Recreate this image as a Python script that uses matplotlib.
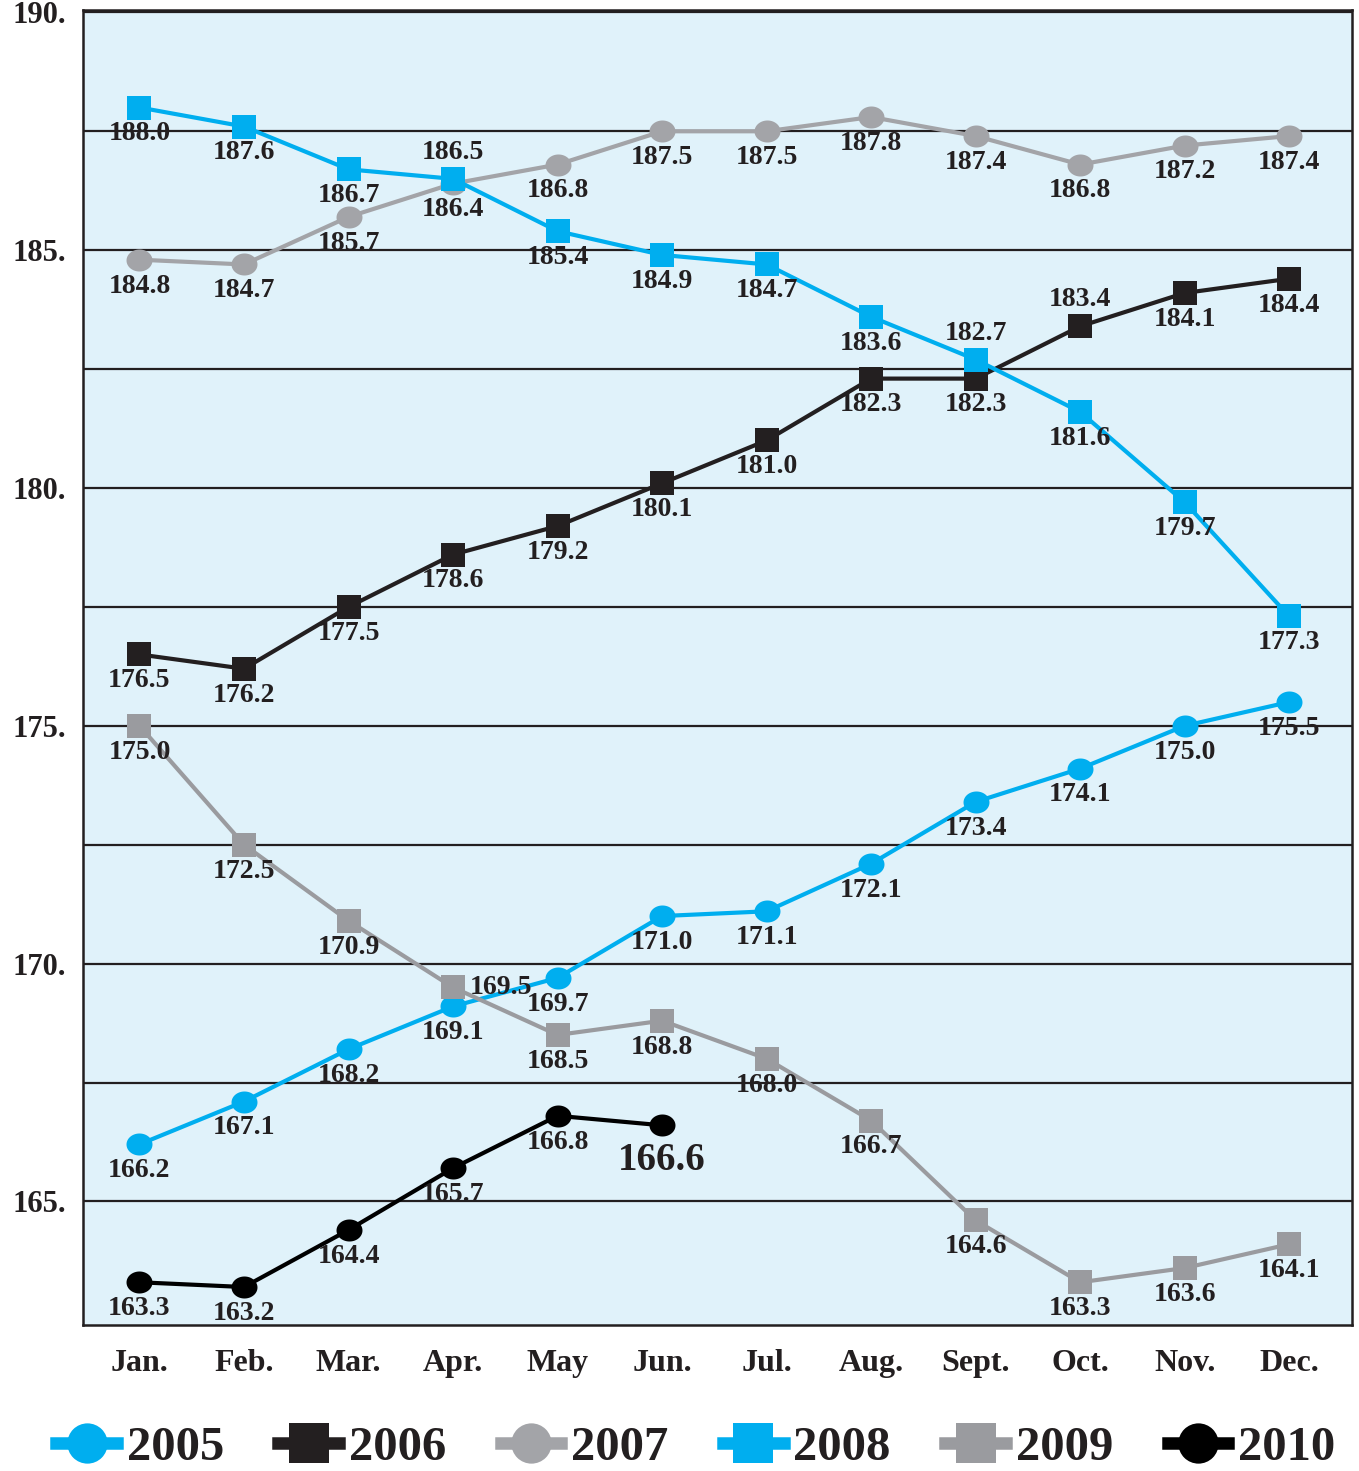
import numpy as np
import matplotlib
matplotlib.use("Agg")
import matplotlib.pyplot as plt
from matplotlib.path import Path
from matplotlib.lines import Line2D

# ---------------- data ----------------
months = ["Jan.", "Feb.", "Mar.", "Apr.", "May", "Jun.", "Jul.", "Aug.",
          "Sept.", "Oct.", "Nov.", "Dec."]
years = ["2005", "2006", "2007", "2008", "2009", "2010"]
v2005 = [166.2, 167.1, 168.2, 169.1, 169.7, 171.0, 171.1, 172.1, 173.4, 174.1, 175.0, 175.5]
v2006 = [176.5, 176.2, 177.5, 178.6, 179.2, 180.1, 181.0, 182.3, 182.3, 183.4, 184.1, 184.4]
v2007 = [184.8, 184.7, 185.7, 186.4, 186.8, 187.5, 187.5, 187.8, 187.4, 186.8, 187.2, 187.4]
v2008 = [188.0, 187.6, 186.7, 186.5, 185.4, 184.9, 184.7, 183.6, 182.7, 181.6, 179.7, 177.3]
v2009 = [175.0, 172.5, 170.9, 169.5, 168.5, 168.8, 168.0, 166.7, 164.6, 163.3, 163.6, 164.1]
v2010 = [163.3, 163.2, 164.4, 165.7, 166.8, 166.6]
ytick_values = [165, 170, 175, 180, 185, 190]
ytick_labels = ["165.", "170.", "175.", "180.", "185.", "190."]
grid_values = [165, 167.5, 170, 172.5, 175, 177.5, 180, 182.5, 185, 187.5, 190]

# ---------------- style ----------------
CYAN = "#00AEEF"
BLACK = "#231F20"
GRAY7 = "#A3A4A8"
GRAY9 = "#9A9B9F"
BG = "#E0F2FA"
FONT = "Liberation Serif"

t = np.linspace(0, 2 * np.pi, 80)
ellipse = Path(np.column_stack([1.18 * np.cos(t), np.sin(t)]), closed=True)

series = [
    ("2005", v2005, CYAN, ellipse, 18.7),
    ("2006", v2006, BLACK, "s", 17.0),
    ("2007", v2007, GRAY7, ellipse, 18.7),
    ("2008", v2008, CYAN, "s", 17.0),
    ("2009", v2009, GRAY9, "s", 17.0),
    ("2010", v2010, "#000000", ellipse, 18.7),
]

# label placement exceptions (series, month index) -> position
special = {("2006", 9): "above", ("2008", 3): "above", ("2008", 8): "above",
           ("2009", 3): "right"}

fig = plt.figure(figsize=(13.59, 14.71), dpi=100)
ax = fig.add_axes([0.0611, 0.0992, 0.9337, 0.8940])
ax.set_facecolor(BG)

for yv in grid_values:
    ax.axhline(yv, color=BLACK, lw=1.6, zorder=1)

for name, vals, col, mk, ms in series:
    x = np.arange(len(vals))
    ax.plot(x, vals, color=col, lw=3.0, marker=mk, markersize=ms,
            markeredgewidth=0, zorder=3)
    for i, v in enumerate(vals):
        pos = special.get((name, i), "below")
        size = 20
        if name == "2010" and i == len(vals) - 1:
            size = 28
            off = (0, -25)
        elif pos == "above":
            off = (0, 19)
        elif pos == "right":
            off = (12, 0)
        else:
            off = (0, -19)
        ha = "left" if pos == "right" else "center"
        ax.annotate(f"{v:.1f}", (i, v), xytext=off, textcoords="offset points",
                    ha=ha, va="center", fontsize=size, fontweight="bold",
                    family=FONT, color=BLACK, zorder=5)

ax.set_xlim(-0.54, 11.6)
ax.set_ylim(162.4, 190.05)
ax.set_xticks(np.arange(len(months)))
ax.set_xticklabels(months, fontsize=23, fontweight="bold", family=FONT, color=BLACK)
ax.set_yticks(ytick_values)
ax.set_yticklabels(ytick_labels, fontsize=22, fontweight="bold", family=FONT, color=BLACK)
ax.tick_params(axis="x", length=0, pad=17)
ax.tick_params(axis="y", length=0, pad=12)
for sp in ax.spines.values():
    sp.set_color(BLACK)
    sp.set_linewidth(1.8)

# legend
handles = []
for name, vals, col, mk, ms in series:
    m = "o" if not isinstance(mk, str) else "s"
    handles.append(Line2D([], [], color=col, lw=9, marker=m, markersize=29,
                          markeredgewidth=0))
leg = fig.legend(handles, years, loc="center", bbox_to_anchor=(0.512, 0.0156),
                 ncol=6, frameon=False, handlelength=1.25, handletextpad=0.2,
                 columnspacing=1.12,
                 prop={"family": FONT, "weight": "bold", "size": 35})
for txt in leg.get_texts():
    txt.set_color(BLACK)

fig.savefig("out.png", dpi=100)
